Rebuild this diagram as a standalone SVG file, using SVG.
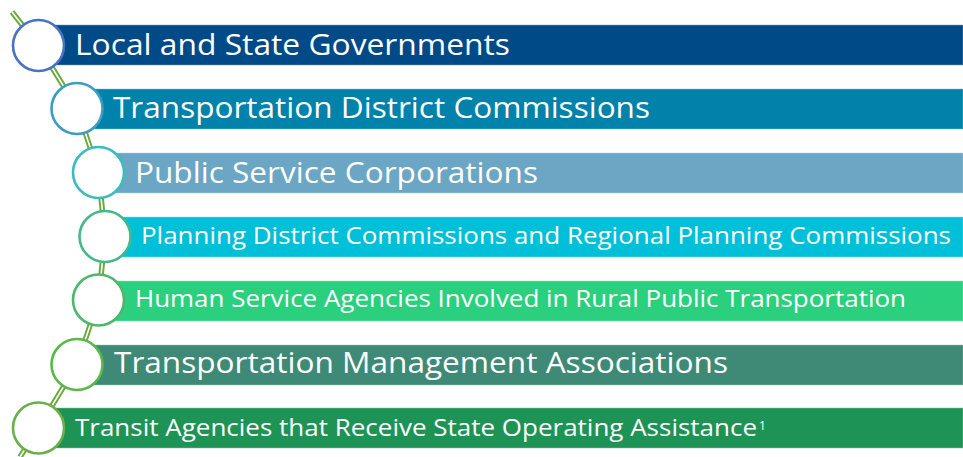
<svg xmlns="http://www.w3.org/2000/svg" width="963" height="457" viewBox="0 0 963 457">
<style>
.bar{stroke-width:1;stroke-opacity:0.5}
.lbl{font-family:"Open Sans","DejaVu Sans",sans-serif;fill:#ffffff}
.big{font-size:30px}
.small{font-size:23px}
.node circle{fill:#ffffff;stroke-width:2.6}
</style>
<rect width="963" height="457" fill="#ffffff"/>
<g id="connectors">
<polyline points="12,12 38.5,45.5 77,108 98.5,172.5 105,236.5 98.5,300 77,364.5 38.5,428 20,457" fill="none" stroke="#6aaa3a" stroke-width="5.5" stroke-linejoin="round"/>
<polyline points="12,12 38.5,45.5 77,108 98.5,172.5 105,236.5 98.5,300 77,364.5 38.5,428 20,457" fill="none" stroke="#ffffff" stroke-width="1.6" stroke-linejoin="round"/>
</g>
<g id="n1" class="node">
<rect class="bar" x="38" y="25" width="925" height="40" fill="#004a87" stroke="#7fa4c3"/>
<circle cx="38.5" cy="45.5" r="25.5" stroke="#4a72c4"/>
<text class="lbl big" x="75" y="55" textLength="435" lengthAdjust="spacingAndGlyphs">Local and State Governments</text>
</g>
<g id="n2" class="node">
<rect class="bar" x="77" y="89" width="886" height="40" fill="#0082aa" stroke="#7fc0d4"/>
<circle cx="77" cy="108.5" r="25.5" stroke="#3c9cc4"/>
<text class="lbl big" x="113" y="118" textLength="537" lengthAdjust="spacingAndGlyphs">Transportation District Commissions</text>
</g>
<g id="n3" class="node">
<rect class="bar" x="98" y="153" width="865" height="40" fill="#6ba6c4" stroke="#b5d2e1"/>
<circle cx="98.5" cy="172.5" r="25.5" stroke="#3cbcbc"/>
<text class="lbl big" x="135" y="183" textLength="403" lengthAdjust="spacingAndGlyphs">Public Service Corporations</text>
</g>
<g id="n4" class="node">
<rect class="bar" x="105" y="217" width="858" height="40" fill="#00bfd8" stroke="#7fdfeb"/>
<circle cx="105" cy="236.5" r="25.5" stroke="#45b98a"/>
<text class="lbl small" x="141" y="244" textLength="810" lengthAdjust="spacingAndGlyphs">Planning District Commissions and Regional Planning Commissions</text>
</g>
<g id="n5" class="node">
<rect class="bar" x="98" y="281" width="865" height="40" fill="#2ad07e" stroke="#94e7be"/>
<circle cx="98.5" cy="300" r="25.5" stroke="#4cb86a"/>
<text class="lbl small" x="135" y="307" textLength="771" lengthAdjust="spacingAndGlyphs">Human Service Agencies Involved in Rural Public Transportation</text>
</g>
<g id="n6" class="node">
<rect class="bar" x="77" y="345" width="886" height="40" fill="#3e8a76" stroke="#9ec4ba"/>
<circle cx="77" cy="364.5" r="25.5" stroke="#5ab84a"/>
<text class="lbl big" x="114" y="373" textLength="614" lengthAdjust="spacingAndGlyphs">Transportation Management Associations</text>
</g>
<g id="n7" class="node">
<rect class="bar" x="38" y="408" width="925" height="40" fill="#1e9356" stroke="#8ec9aa"/>
<circle cx="38.5" cy="428" r="25.5" stroke="#6ab04a"/>
<text class="lbl" style="font-size:24px" x="75" y="436" textLength="682" lengthAdjust="spacingAndGlyphs">Transit Agencies that Receive State Operating Assistance</text>
<text class="lbl" style="font-size:12px" x="759" y="430">1</text>
</g>
</svg>
